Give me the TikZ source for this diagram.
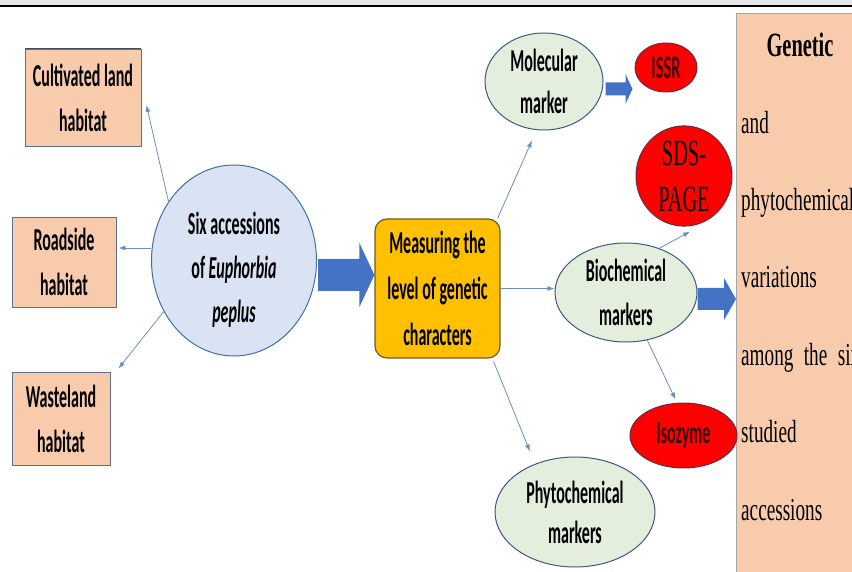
\documentclass[tikz,border=0pt]{standalone}
\usepackage{fontspec}
\setmainfont{Carlito}
\newfontfamily\calfont[FakeStretch=0.5]{Carlito}
\newfontfamily\tnr[FakeStretch=0.6]{Liberation Serif}
\newfontfamily\tnrn[FakeStretch=0.55]{Liberation Serif}
\usetikzlibrary{arrows.meta,shapes.geometric,calc}
\definecolor{peach}{HTML}{F8CBAD}
\definecolor{peachedge}{HTML}{5B6F8C}
\definecolor{circfill}{HTML}{DAE3F3}
\definecolor{circedge}{HTML}{41719C}
\definecolor{orangefill}{HTML}{FFC000}
\definecolor{orangeedge}{HTML}{6B5A2A}
\definecolor{greenfill}{HTML}{E4EEDC}
\definecolor{greenedge}{HTML}{3D5A80}
\definecolor{redfill}{HTML}{FF0000}
\definecolor{rededge}{HTML}{6A2A45}
\definecolor{arrowblue}{HTML}{4472C4}
\definecolor{thinblue}{HTML}{6C8EBF}
\definecolor{topgray}{HTML}{E6E6E6}
\definecolor{sideedge}{HTML}{A6A6A6}
\definecolor{redtext}{HTML}{3A0808}
\newcommand{\blockarrow}[5]{% start, end, body half, head half, head length
  \fill[arrowblue] ($(#1)+(0,-#3)$) -- ($(#2)+(-#5,-#3)$) -- ($(#2)+(-#5,-#4)$) -- (#2)
    -- ($(#2)+(-#5,#4)$) -- ($(#2)+(-#5,#3)$) -- ($(#1)+(0,#3)$) -- cycle;}
\begin{document}
\begin{tikzpicture}[x=1pt,y=-1pt,
  caltext/.style={font=\calfont\bfseries\fontsize{32}{45}\selectfont, align=center, text=black},
  habbox/.style={draw=peachedge, line width=0.9pt, fill=peach, inner sep=0pt, caltext},
  greenell/.style={ellipse, draw=greenedge, line width=1pt, fill=greenfill, inner sep=0pt, caltext},
  redell/.style={ellipse, draw=rededge, line width=1pt, fill=redfill, inner sep=0pt, caltext, text=redtext},
  thinarrow/.style={draw=thinblue, line width=0.8pt, -{Latex[length=7pt,width=5pt]}},
  rtext/.style={font=\tnr\fontsize{32}{40}\selectfont, anchor=base west, inner sep=0pt, text=black}
]
\useasboundingbox (0,0) rectangle (852,572);
% top band
\fill[topgray] (0,0) rectangle (852,5);
\fill[black] (0,5) rectangle (852,7);

% right result box
\begin{scope}
\clip (0,0) rectangle (852,572);
\node[draw=sideedge, line width=1pt, fill=peach, minimum width=150pt, minimum height=600pt, anchor=north west, inner sep=0pt] (res) at (736,13) {};
\node[rtext, anchor=base, font=\tnr\bfseries\fontsize{34}{40}\selectfont] (r1) at (800,57) {Genetic};
\node[rtext] (r2) at (741,134) {and};
\node[rtext] (r3) at (741,211) {phytochemical};
\node[rtext] (r4) at (741,288) {variations};
\node[rtext] (r5) at (741,365) {\makebox[119pt][s]{among the six}};
\node[rtext] (r6) at (741,442) {studied};
\node[rtext] (r7) at (741,520) {accessions};
\end{scope}

% habitat boxes
\node[habbox, minimum width=116pt, minimum height=97pt] (cult) at (83,97.5) {Cultivated land\\habitat};
\node[habbox, minimum width=104pt, minimum height=90pt] (road) at (64,262) {Roadside\\habitat};
\node[habbox, minimum width=98pt, minimum height=93pt] (waste) at (61,418.5) {Wasteland\\habitat};
\draw[peachedge!70!black, line width=1.6pt] (cult.north west) -- (cult.north east);

% accessions circle
\node[ellipse, draw=circedge, line width=1pt, fill=circfill, minimum width=165pt, minimum height=191pt, inner sep=0pt] (circ) at (234,260.5) {};
\node[caltext, text depth=0pt, font=\calfont\bfseries\fontsize{32}{44}\selectfont] (circtxt) at (234,267) {Six accessions\\of \textit{Euphorbia}\\\textit{peplus}};

% measuring box
\node[draw=orangeedge, line width=1.2pt, fill=orangefill, rounded corners=12pt, minimum width=125pt, minimum height=139pt, inner sep=0pt, caltext, font=\calfont\bfseries\fontsize{32}{46}\selectfont] (meas) at (437.5,288.5) {Measuring the\\level of genetic\\characters};

% marker ellipses
\node[greenell, minimum width=118pt, minimum height=97pt, font=\calfont\bfseries\fontsize{32}{42}\selectfont] (mol) at (544,81.5) {Molecular\\marker};
\node[greenell, minimum width=142pt, minimum height=99pt, font=\calfont\bfseries\fontsize{32}{44}\selectfont] (bio) at (626,292.5) {Biochemical\\markers};
\node[greenell, minimum width=160pt, minimum height=110pt, font=\calfont\bfseries\fontsize{32}{40}\selectfont] (phyto) at (575,512) {Phytochemical\\markers};

% red ellipses
\node[redell, minimum width=62pt, minimum height=49pt, font=\calfont\bfseries\fontsize{33}{40}\selectfont] (issr) at (666,67.5) {ISSR};
\node[redell, minimum width=96pt, minimum height=93pt, font=\tnrn\fontsize{37}{46}\selectfont, text=black] (sds) at (684,176) {SDS-\\PAGE};
\node[redell, minimum width=107pt, minimum height=65pt] (iso) at (683.5,435.5) {Isozyme};

% thin connectors
\draw[thinarrow] (circ.138) -- ([xshift=5pt,yshift=-7.5pt]cult.east);
\draw[thinarrow] (circ.west |- 0,248) -- ([xshift=2pt]road.east |- 0,248);
\draw[thinarrow] (circ.216) -- ([xshift=8pt,yshift=3pt]waste.north east);
\draw[thinarrow] ([xshift=-3pt]meas.north east) -- ([xshift=-12pt,yshift=-10pt]mol.south);
\draw[thinarrow] (meas.east) -- (meas.east -| bio.west);
\draw[thinarrow] ([xshift=-7pt,yshift=-3pt]meas.south east) -- ([xshift=-45pt,yshift=5pt]phyto.north);
\draw[thinarrow] (bio.53) -- ([xshift=6pt,yshift=-5pt]sds.south);
\draw[thinarrow] (bio.-66) -- ([xshift=-8pt,yshift=3pt]iso.north);

% block arrows
\coordinate (a1s) at ([xshift=1pt,yshift=-14.5pt]circ.east);
\coordinate (a1e) at ([yshift=-14.5pt]circ.east -| meas.west);
\blockarrow{a1s}{a1e}{16}{32}{15}
\coordinate (a2s) at ([xshift=2pt,yshift=-7.5pt]mol.east);
\coordinate (a2e) at ([xshift=-2pt,yshift=-7.5pt]mol.east -| issr.west);
\blockarrow{a2s}{a2e}{6.5}{15}{7}
\coordinate (a3s) at ([yshift=-6.5pt]bio.east);
\coordinate (a3e) at ([yshift=-6.5pt]bio.east -| res.west);
\blockarrow{a3s}{a3e}{11}{21}{12}
\end{tikzpicture}
\end{document}
